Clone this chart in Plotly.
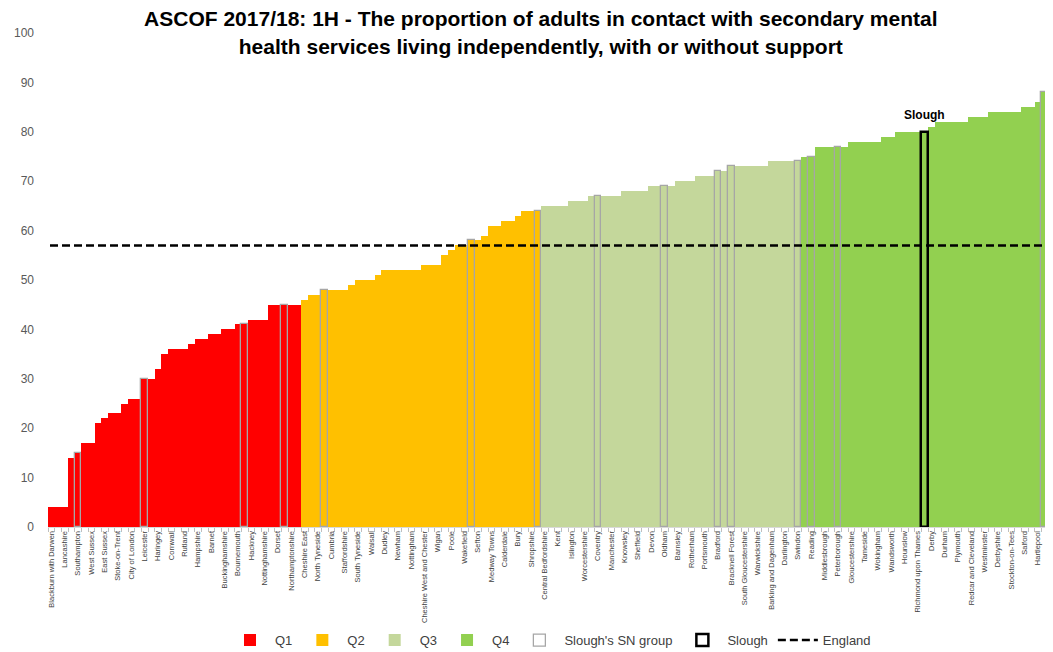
import plotly.graph_objects as go

# Local authorities, sorted by value; only every other one is labelled on the axis
labels = [
    "Blackburn with Darwen", "Lancashire", "Southampton", "West Sussex", "East Sussex",
    "Stoke-on-Trent", "City of London", "Leicester", "Haringey", "Cornwall", "Rutland",
    "Hampshire", "Barnet", "Buckinghamshire", "Bournemouth", "Hackney", "Nottinghamshire",
    "Dorset", "Northamptonshire", "Cheshire East", "North Tyneside", "Cumbria",
    "Staffordshire", "South Tyneside", "Walsall", "Dudley", "Newham", "Nottingham",
    "Cheshire West and Chester", "Wigan", "Poole", "Wakefield", "Sefton", "Medway Towns",
    "Calderdale", "Bury", "Shropshire", "Central Bedfordshire", "Kent", "Islington",
    "Worcestershire", "Coventry", "Manchester", "Knowsley", "Sheffield", "Devon", "Oldham",
    "Barnsley", "Rotherham", "Portsmouth", "Bradford", "Bracknell Forest",
    "South Gloucestershire", "Warwickshire", "Barking and Dagenham", "Darlington", "Swindon",
    "Reading", "Middlesbrough", "Peterborough", "Gloucestershire", "Tameside", "Wokingham",
    "Wandsworth", "Hounslow", "Richmond upon Thames", "Derby", "Durham", "Plymouth",
    "Redcar and Cleveland", "Westminster", "Derbyshire", "Stockton-on-Tees", "Salford",
    "Hartlepool", "Kensington and Chelsea",
]

# % living independently, one value per authority
values = [
    4, 4, 4, 14, 15, 17, 17, 21, 22, 23, 23, 25, 26, 26, 30, 30, 32, 35, 36, 36,
    36, 37, 38, 38, 39, 39, 40, 40, 41, 41, 42, 42, 42, 45, 45, 45, 45, 45,
    46, 47, 47, 48, 48, 48, 48, 49, 50, 50, 50, 51, 52, 52, 52, 52, 52, 52,
    53, 53, 53, 55, 56, 57, 57, 58, 58, 59, 61, 61, 62, 62, 63, 64, 64, 64,
    65, 65, 65, 65, 66, 66, 66, 67, 67, 67, 67, 67, 68, 68, 68, 68, 69, 69,
    69, 69, 70, 70, 70, 71, 71, 71, 72, 72, 73, 73, 73, 73, 73, 73, 74, 74,
    74, 74, 74, 75, 75, 77, 77, 77, 77, 77, 78, 78, 78, 78, 78, 79, 79, 80,
    80, 80, 80, 80, 81, 82, 82, 82, 82, 82, 83, 83, 83, 84, 84, 84, 84, 84,
    85, 85, 86, 88, 88,
]

quartile_sizes = [38, 36, 39, 38]
quartile_names = ["Q1", "Q2", "Q3", "Q4"]
quartile_colors = ["#FF0000", "#FFC000", "#C4D79B", "#92D050"]

sn_group = [4, 14, 29, 35, 41, 63, 73, 82, 92, 100, 102, 112, 114, 118, 149]
slough = 131
england = 57

fig = go.Figure()

start = 0
for name, size, color in zip(quartile_names, quartile_sizes, quartile_colors):
    idx = list(range(start, start + size))
    fig.add_trace(go.Bar(
        x=idx, y=[values[i] for i in idx], name=name, width=1,
        marker=dict(color=color, line=dict(width=0)),
    ))
    start += size

fig.add_trace(go.Bar(
    x=sn_group, y=[values[i] for i in sn_group], name="Slough's SN group", width=1,
    marker=dict(color="rgba(0,0,0,0)", line=dict(color="#A6A6A6", width=1.3)),
))
fig.add_trace(go.Bar(
    x=[slough], y=[values[slough]], name="Slough", width=1,
    marker=dict(color="rgba(0,0,0,0)", line=dict(color="black", width=2.5)),
))
fig.add_trace(go.Scatter(
    x=[-0.2, len(values) - 0.5], y=[england, england], name="England", mode="lines",
    line=dict(color="black", width=2.5, dash="8px,4px"),
))

fig.add_annotation(x=slough, y=values[slough], text="<b>Slough</b>", showarrow=False,
                   yanchor="bottom", yshift=8, font=dict(size=12, color="black"))

# the page adds an 8px body margin, so the margins here are 8px smaller
fig.update_layout(
    width=1053, height=652,
    paper_bgcolor="white", plot_bgcolor="white",
    barmode="overlay", bargap=0,
    margin=dict(l=40, r=8, t=25, b=133, autoexpand=False),
    font=dict(family="Liberation Sans, Arial, sans-serif", color="#404040"),
    title=dict(
        text="<b>ASCOF 2017/18: 1H - The proportion of adults in contact with secondary mental<br>"
             "health services living independently, with or without support</b>",
        x=0.506, xref="container", xanchor="center", y=0.972, yanchor="top",
        font=dict(size=21, color="black"),
    ),
    xaxis=dict(
        range=[-0.5, 150.25], tickmode="array", automargin=False,
        tickvals=list(range(0, 2 * len(labels), 2)), ticktext=labels,
        tickangle=-90, tickfont=dict(size=7.5, color="#404040",
                                     family="Liberation Sans Narrow, Liberation Sans, Arial"),
        ticks="", showline=True, linecolor="#D9D9D9", linewidth=1,
        minor=dict(ticks="outside", tick0=-0.5, dtick=1, ticklen=4, tickcolor="#BFBFBF"),
        showgrid=False, zeroline=False,
    ),
    yaxis=dict(
        range=[0, 100], dtick=10, showgrid=False, zeroline=False, showline=False,
        automargin=False, ticklabelstandoff=13,
        tickfont=dict(size=12, color="#595959"), ticks="",
    ),
    legend=dict(
        orientation="h", x=0.5, xanchor="center", y=-0.229, yanchor="middle",
        font=dict(size=13, color="#404040"), traceorder="normal", itemwidth=40,
        bgcolor="rgba(0,0,0,0)",
    ),
    showlegend=True,
)

fig.write_html("out.html")
